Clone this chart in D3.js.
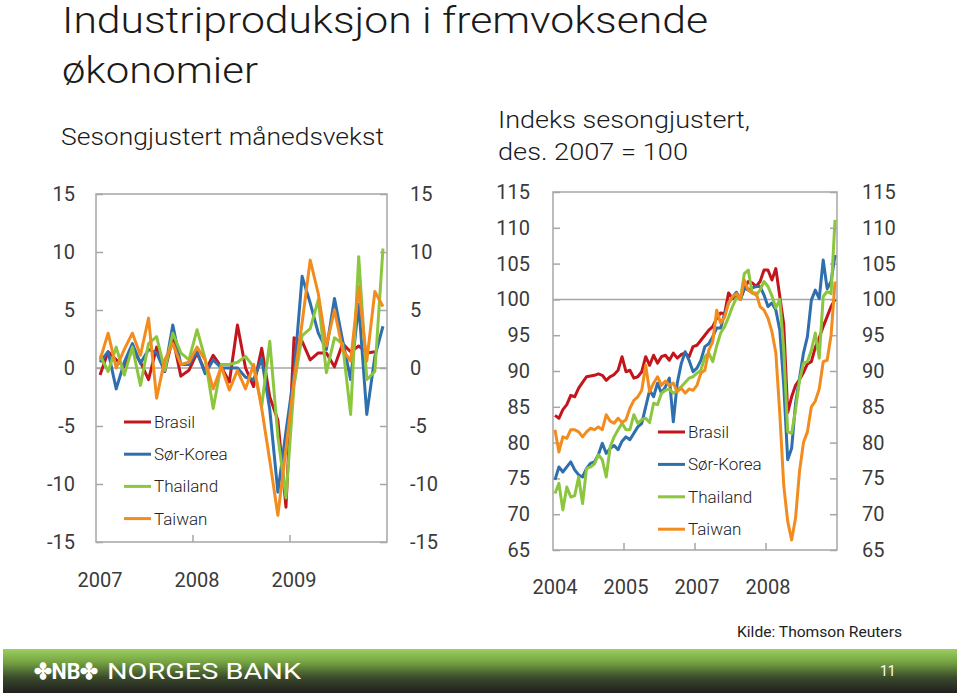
<!DOCTYPE html>
<html><head><meta charset="utf-8">
<script src="https://cdn.jsdelivr.net/npm/d3@7"></script>
<style>
body{margin:0;background:#fff}
svg{display:block}
text{font-family:Roboto,"Liberation Sans",Arial,sans-serif}
</style>
</head><body>
<svg id="c" width="960" height="693"></svg>
<script>
// ---------- DATA ----------
const seriesNames = ["Brasil", "Sør-Korea", "Thailand", "Taiwan"];

// Left panel: monthly growth, Jan 2007 - Dec 2009
const leftMonths = d3.timeMonth.range(new Date(2007, 0, 1), new Date(2010, 0, 1));
const leftXLabels = ["2007", "2008", "2009"];
const leftYTicks = [-15, -10, -5, 0, 5, 10, 15];

const growthBrasil = [-0.6, 1.4, 0.7, 0.1, 1.6, 0.5, -1.0, 1.8, -0.3, 2.6, -0.7, -0.2,
  1.3, -0.3, 1.1, 0.1, -1.2, 3.7, 0.0, -1.6, 1.7, -2.5, -4.5, -12.0,
  2.6, 2.3, 0.7, 1.3, 1.3, 0.1, 2.1, 1.4, 1.9, 1.3, 1.4, null];
const growthKorea = [0.5, 1.4, -1.8, 0.5, 2.1, 0.4, 1.6, 1.3, -0.3, 3.7, 0.3, 0.3,
  1.4, -0.5, 0.7, 0.0, 0.0, 0.0, -0.8, -1.0, 0.8, -3.6, -10.7, -5.5,
  -0.5, 7.9, 5.6, 3.0, 1.6, 6.0, 2.4, -1.0, 5.5, -4.0, 1.0, 3.6];
const growthThailand = [1.1, -0.3, 1.8, -0.6, 1.8, -1.5, 2.1, 2.7, -0.2, 3.0, 1.3, 0.7,
  3.3, 0.8, -3.5, 0.3, 0.3, 0.5, 1.0, 0.1, -3.3, 2.3, -5.9, -11.2,
  -1.5, 2.8, 3.4, 5.9, -0.4, 2.6, 2.1, -4.0, 9.6, -1.0, -0.3, 10.3];
const growthTaiwan = [0.7, 3.0, 0.0, 1.6, 3.0, 1.1, 4.3, -2.6, 0.7, 2.1, 0.3, 0.5,
  1.8, 0.7, -1.8, 0.1, -1.9, -0.2, -1.8, 0.3, -3.5, -8.0, -12.7, -7.0,
  -1.0, 3.9, 9.3, 6.4, 1.9, 5.0, 1.6, 0.6, 7.0, 0.6, 6.6, 5.3];

// Right panel: index, Dec 2007 = 100, Jan 2004 - Dec 2009
const rightMonths = d3.timeMonth.range(new Date(2004, 0, 1), new Date(2010, 0, 1));
const rightXLabels = ["2004", "2005", "2007", "2008"];
const rightYTicks = [65, 70, 75, 80, 85, 90, 95, 100, 105, 110, 115];

const indexBrasil = [83.8, 83.4, 84.6, 85.3, 86.6, 86.4, 87.6, 88.4, 89.2, 89.3, 89.4, 89.6,
  89.4, 88.7, 89.2, 89.5, 90.1, 92.0, 89.9, 90.1, 89.0, 89.2, 89.9, 92.0,
  90.8, 92.2, 91.1, 92.0, 92.2, 91.5, 92.5, 91.8, 92.3, 92.5, 92.0, 93.4,
  93.6, 94.3, 95.0, 95.7, 96.2, 97.4, 98.1, 98.0, 100.9, 100.1, 100.6, 100.0,
  101.5, 102.5, 102.3, 101.8, 102.5, 104.1, 104.1, 102.7, 104.3, 100.4, 96.5, 84.2,
  86.4, 88.0, 88.8, 89.8, 91.0, 91.3, 93.3, 94.6, 96.2, 97.6, 99.0, 100.0];
const indexKorea = [74.8, 76.6, 75.9, 76.6, 77.3, 76.2, 75.5, 75.2, 76.4, 77.1, 77.3, 78.3,
  79.9, 78.5, 79.2, 79.6, 79.0, 80.2, 80.8, 80.4, 81.3, 82.2, 82.7, 85.0,
  87.3, 86.4, 88.3, 86.9, 87.8, 89.0, 82.9, 88.3, 91.0, 92.7, 91.5, 89.9,
  90.4, 91.5, 93.4, 93.8, 94.8, 96.0, 96.0, 98.0, 99.5, 100.3, 101.0, 100.0,
  101.6, 101.3, 101.6, 101.8, 101.8, 100.6, 99.0, 99.5, 98.5, 95.7, 88.0, 77.6,
  79.2, 85.5, 89.0, 92.5, 94.8, 99.9, 101.3, 100.1, 105.5, 101.5, 102.5, 106.2];
const indexThailand = [72.9, 74.3, 70.6, 73.8, 72.4, 72.6, 75.2, 71.5, 76.4, 76.6, 77.0, 78.3,
  77.6, 75.2, 79.4, 80.8, 81.8, 82.7, 81.8, 81.8, 83.9, 82.7, 83.2, 83.4,
  82.8, 85.5, 85.3, 86.9, 87.3, 87.5, 86.9, 87.2, 87.8, 88.4, 89.0, 89.2,
  89.7, 90.1, 92.0, 92.5, 91.3, 93.5, 95.3, 96.2, 97.5, 99.0, 100.2, 100.0,
  103.6, 104.1, 100.9, 100.6, 101.3, 102.5, 101.8, 100.5, 98.8, 100.0, 93.0, 81.5,
  81.3, 84.6, 88.7, 91.1, 91.3, 92.9, 95.3, 91.8, 100.4, 101.1, 100.8, 111.1];
const indexTaiwan = [81.8, 78.7, 80.8, 80.6, 81.8, 81.8, 81.5, 80.8, 81.5, 82.0, 81.8, 82.2,
  81.8, 83.9, 83.0, 82.7, 83.4, 82.8, 83.2, 84.8, 85.9, 86.4, 87.3, 90.8,
  87.1, 88.3, 89.2, 88.0, 88.6, 88.0, 88.3, 87.1, 87.6, 86.9, 87.5, 87.3,
  88.0, 89.7, 90.1, 92.9, 94.1, 98.5, 96.7, 97.5, 99.5, 100.4, 100.8, 100.0,
  102.7, 101.3, 100.9, 100.9, 99.0, 98.5, 97.4, 95.5, 92.5, 84.0, 74.0, 69.0,
  66.4, 69.5, 76.0, 80.0, 81.5, 85.0, 85.8, 87.5, 91.3, 91.5, 95.0, 102.5];

// ---------- STYLE ----------
const colors = ["#c3161c", "#2f6fae", "#8cc63e", "#f28c1e"];
const axisColor = "#a6a6a6";
const labelColor = "#3a3a3a";

const svg = d3.select("#c");

// ---------- TITLES ----------
function fitText(x, y, txt, size, len, opts = {}) {
  const t = svg.append("text").attr("x", x).attr("y", y).text(txt)
    .attr("font-size", size).attr("font-weight", opts.weight || 300)
    .attr("fill", opts.fill || "#1a1a1a");
  if (len) t.attr("textLength", len).attr("lengthAdjust", "spacingAndGlyphs");
  return t;
}
fitText(62, 33, "Industriproduksjon i fremvoksende", 36, 646);
fitText(62, 83, "økonomier", 36, 196);
fitText(61, 145, "Sesongjustert månedsvekst", 24, 323);
fitText(498, 128, "Indeks sesongjustert,", 24, 252);
fitText(498, 160, "des. 2007 = 100", 24, 190);

// ---------- PANELS ----------
function panel(cfg) {
  const x = d3.scaleBand().domain(cfg.months).range([cfg.x0, cfg.x1]).paddingInner(0).paddingOuter(0);
  const y = d3.scaleLinear().domain(cfg.yDomain).range([cfg.yb, cfg.yt]);
  const g = svg.append("g");

  // reference line
  g.append("line").attr("x1", cfg.x0).attr("x2", cfg.x1)
    .attr("y1", y(cfg.ref)).attr("y2", y(cfg.ref))
    .attr("stroke", axisColor).attr("stroke-width", 1.5);

  // left axis (ticks inward)
  const la = g.append("g").attr("transform", `translate(${cfg.x0},0)`)
    .call(d3.axisLeft(y).tickValues(cfg.yTicks).tickSizeInner(-7).tickSizeOuter(0)
      .tickPadding(cfg.padL).tickFormat(d => String(d)));
  // right axis (ticks inward)
  const ra = g.append("g").attr("transform", `translate(${cfg.x1},0)`)
    .call(d3.axisRight(y).tickValues(cfg.yTicks).tickSizeInner(-7).tickSizeOuter(0)
      .tickPadding(cfg.padR).tickFormat(d => String(d)));
  // bottom labels
  const labelMonths = cfg.months.filter((d, i) => i % cfg.every === 0);
  const ba = g.append("g").attr("transform", `translate(0,${cfg.yb})`)
    .call(d3.axisBottom(x).tickValues(labelMonths).tickSize(0).tickPadding(cfg.padB)
      .tickFormat((d, i) => cfg.xLabels[i]));
  [la, ra, ba].forEach(a => {
    a.select(".domain").remove();
    a.selectAll(".tick line").attr("stroke", axisColor).attr("stroke-width", 1.5);
    a.selectAll(".tick text").attr("font-size", 20).attr("fill", labelColor)
      .attr("font-family", "Roboto, 'Liberation Sans', Arial, sans-serif").attr("font-weight", 400);
  });
  // bottom tick marks at category boundaries
  g.selectAll("line.bt").data(labelMonths.slice(1)).join("line").attr("class", "bt")
    .attr("x1", d => x(d)).attr("x2", d => x(d))
    .attr("y1", cfg.yb).attr("y2", cfg.yb - 7)
    .attr("stroke", axisColor).attr("stroke-width", 1.5);

  // frame
  g.append("rect").attr("x", cfg.x0).attr("y", cfg.yt)
    .attr("width", cfg.x1 - cfg.x0).attr("height", cfg.yb - cfg.yt)
    .attr("fill", "none").attr("stroke", axisColor).attr("stroke-width", 1.5);

  // lines
  const line = d3.line()
    .defined(d => d.v !== null)
    .x(d => x(d.m) + x.bandwidth() / 2)
    .y(d => y(d.v));
  cfg.series.forEach((vals, k) => {
    const pts = cfg.months.map((m, i) => ({ m, v: vals[i] === undefined ? null : vals[i] }));
    g.append("path").datum(pts).attr("d", line)
      .attr("fill", "none").attr("stroke", colors[k]).attr("stroke-width", 3)
      .attr("stroke-linejoin", "round");
  });

  // legend
  seriesNames.forEach((n, k) => {
    const ly = cfg.legY + k * cfg.legStep;
    g.append("line").attr("x1", cfg.legX).attr("x2", cfg.legX + 27)
      .attr("y1", ly).attr("y2", ly).attr("stroke", colors[k]).attr("stroke-width", 3);
    g.append("text").attr("x", cfg.legX + 30).attr("y", ly + 6).text(n)
      .attr("font-size", 17).attr("fill", "#222").attr("font-weight", 300);
  });
}

panel({
  months: leftMonths, x0: 96, x1: 387, yt: 194, yb: 542, yDomain: [-15, 15], ref: 0,
  yTicks: leftYTicks, xLabels: leftXLabels, every: 12, padL: 21, padR: 23, padB: 31,
  series: [growthBrasil, growthKorea, growthThailand, growthTaiwan],
  legX: 124, legY: 422, legStep: 32.2
});
panel({
  months: rightMonths, x0: 553, x1: 837, yt: 192, yb: 550, yDomain: [65, 115], ref: 100,
  yTicks: rightYTicks, xLabels: rightXLabels, every: 18, padL: 23, padR: 25, padB: 30,
  series: [indexBrasil, indexKorea, indexThailand, indexTaiwan],
  legX: 658, legY: 432, legStep: 32.4
});

// ---------- SOURCE & FOOTER ----------
svg.append("text").attr("x", 902).attr("y", 637).attr("text-anchor", "end")
  .attr("font-size", 15).attr("fill", "#222").attr("textLength", 165)
  .attr("lengthAdjust", "spacingAndGlyphs").text("Kilde: Thomson Reuters");

const defs = svg.append("defs");
const grad = defs.append("linearGradient").attr("id", "fg").attr("x1", 0).attr("x2", 0).attr("y1", 0).attr("y2", 1);
[["0%", "#9ccf60"], ["30%", "#75a342"], ["65%", "#3b4a2b"], ["100%", "#1f1f1f"]]
  .forEach(([o, c]) => grad.append("stop").attr("offset", o).attr("stop-color", c));
svg.append("rect").attr("x", 3).attr("y", 649).attr("width", 954).attr("height", 44).attr("fill", "url(#fg)");
svg.append("text").attr("x", 34).attr("y", 679).attr("font-size", 22).attr("fill", "#fff")
  .attr("font-family", "'DejaVu Serif', serif").attr("font-weight", 700)
  .attr("textLength", 64).attr("lengthAdjust", "spacingAndGlyphs").text("✤NB✤");
svg.append("text").attr("x", 107).attr("y", 679).attr("font-size", 22).attr("fill", "#fff")
  .attr("font-family", "'DejaVu Sans', sans-serif")
  .attr("textLength", 194).attr("lengthAdjust", "spacingAndGlyphs").text("NORGES BANK");
svg.append("text").attr("x", 880).attr("y", 676).attr("font-size", 14).attr("fill", "#fff").text("11");
</script>
</body></html>
